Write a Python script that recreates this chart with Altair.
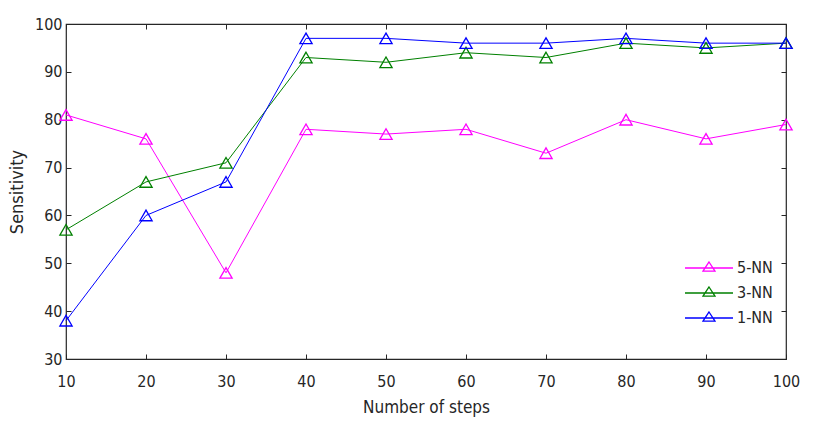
import altair as alt
import pandas as pd

steps = [10, 20, 30, 40, 50, 60, 70, 80, 90, 100]
nn5 = [81, 76, 48, 78, 77, 78, 73, 80, 76, 79]
nn3 = [57, 67, 71, 93, 92, 94, 93, 96, 95, 96]
nn1 = [38, 60, 67, 97, 97, 96, 96, 97, 96, 96]
series = ["5-NN", "3-NN", "1-NN"]
colors = ["#FF00FF", "#008000", "#0000FF"]
y_ticks = [30, 40, 50, 60, 70, 80, 90, 100]

rows = []
for name, vals in zip(series, [nn5, nn3, nn1]):
    for s, v in zip(steps, vals):
        rows.append({"steps": s, "value": v, "model": name})
df = pd.DataFrame(rows)

font = "DejaVu Sans Condensed, Liberation Sans, sans-serif"
tc = "#262626"

xscale = alt.Scale(domain=[10, 100], nice=False, zero=False)
yscale = alt.Scale(domain=[30, 100], nice=False, zero=False)

# unit box = 16px; line spans 48px, triangle ~12px wide
legend_path = "M-3,0H3M0,-0.75L0.75,0.4L-0.75,0.4Z"

main = alt.Chart(df).mark_line(
    strokeWidth=1,
    point=alt.OverlayMarkDef(shape="triangle-up", filled=False, size=150, strokeWidth=1.3),
).encode(
    x=alt.X("steps:Q", scale=xscale, axis=alt.Axis(
        values=steps, title="Number of steps", orient="bottom", offset=-5, tickSize=5,
        domain=False, grid=False, labelPadding=14, labelFlush=False, labelFont=font,
        labelFontSize=16, labelColor=tc, tickColor=tc, titleFont=font, titleFontSize=17,
        titleColor=tc, titleFontWeight="normal", titlePadding=10)),
    y=alt.Y("value:Q", scale=yscale, axis=alt.Axis(
        values=y_ticks, title="Sensitivity", orient="left", offset=-5, tickSize=5,
        domain=False, grid=False, labelPadding=4, labelFlush=False, labelFont=font,
        labelFontSize=16, labelColor=tc, tickColor=tc, titleFont=font, titleFontSize=18,
        titleColor=tc, titleFontWeight="normal", titlePadding=8)),
    color=alt.Color("model:N", sort=series,
                    scale=alt.Scale(domain=series, range=colors),
                    legend=alt.Legend(
                        title=None, orient="none", legendX=634, legendY=235,
                        symbolType=legend_path, symbolSize=256, symbolStrokeWidth=1.3,
                        symbolFillColor="transparent", rowPadding=8,
                        labelFont=font, labelFontSize=16, labelColor=tc, labelOffset=19)),
    order=alt.Order("steps:Q"),
)

frame = alt.Chart(df).mark_point(opacity=0).encode(
    x=alt.X("steps:Q", scale=xscale, axis=alt.Axis(
        values=steps, title=None, orient="top", offset=-5, tickSize=5, domain=False,
        labels=False, grid=False, tickColor=tc)),
    y=alt.Y("value:Q", scale=yscale, axis=alt.Axis(
        values=y_ticks, title=None, orient="right", offset=-5, tickSize=5, domain=False,
        labels=False, grid=False, tickColor=tc)),
)

chart = alt.layer(main, frame).resolve_axis(
    x="independent", y="independent"
).properties(
    width=720, height=335,
    autosize=alt.AutoSizeParams(type="none"),
    padding={"left": 58, "top": 16, "right": 20, "bottom": 70},
    background="white",
).configure_view(
    stroke=tc, strokeWidth=1.2
)

chart.save("out.html", embed_options={"renderer": "svg", "actions": False})
